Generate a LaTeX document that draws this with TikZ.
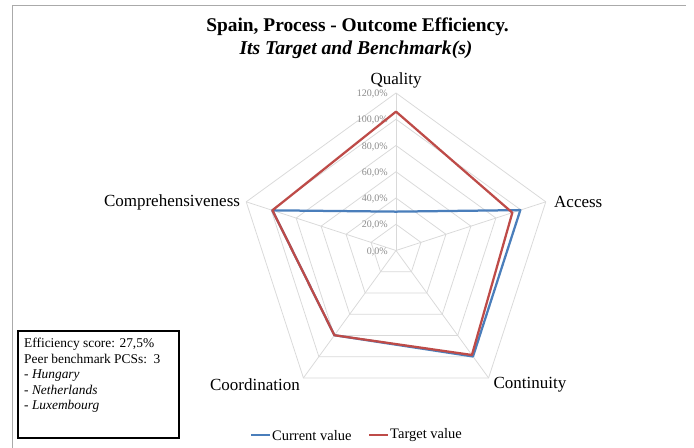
\documentclass[tikz,border=0pt]{standalone}
\usepackage{fontspec}
\setmainfont{Liberation Serif}
\definecolor{cblue}{RGB}{74,126,187}
\definecolor{cred}{RGB}{190,75,72}
\definecolor{gridc}{RGB}{217,217,217}
\definecolor{ticklab}{RGB}{140,140,140}
\definecolor{framec}{RGB}{170,170,170}
\tikzset{
  gridline/.style={draw=gridc, line width=0.75bp},
  series/.style={line width=2.25bp, line join=round},
  catlabel/.style={font=\fontsize{17bp}{20bp}\selectfont, inner sep=0pt},
  ticklabel/.style={font=\fontsize{10bp}{12bp}\selectfont, text=ticklab, anchor=east, inner sep=0pt},
  boxtext/.style={font=\fontsize{13.4bp}{15.5bp}\selectfont, anchor=base west, inner sep=0pt},
  legtext/.style={font=\fontsize{14.5bp}{17bp}\selectfont, anchor=west, inner sep=0pt},
}
\begin{document}
\begin{tikzpicture}[x=1bp,y=1bp]
\useasboundingbox (0,0) rectangle (694,448);
\fill[white] (0,0) rectangle (694,448);
\draw[framec, line width=1bp] (12,0) -- (12,442) -- (686,442);

% title
\node (title) at (357.5,421) {\fontsize{19.4bp}{22bp}\selectfont\bfseries Spain, Process - Outcome Efficiency.};
\node (subtitle) at (356,398.5) {\fontsize{19.6bp}{22bp}\selectfont\bfseries\itshape Its Target and Benchmark(s)};

\begin{scope}[shift={(396,197.5)}]
  \def\s{1.3125}
  \foreach \r in {1,...,6} {
    \pgfmathsetmacro\rr{\r*26.25}
    \draw[gridline] (90:\rr) -- (18:\rr) -- (-54:\rr) -- (-126:\rr) -- (162:\rr) -- cycle;
  }
  \foreach \a in {90,18,-54,-126,162} \draw[gridline] (0,0) -- (\a:157.5);
  \foreach \r/\t in {0/0,1/20,2/40,3/60,4/80,5/100,6/120} {
    \node[ticklabel] (tick\r) at (-8,\r*26.25-1) {\t,0\%};
  }
  \coordinate (centre) at (0,0);
  \draw[cblue, series] (90:{29.6*\s}) -- (18:{99.6*\s}) -- (-54:{99.8*\s}) -- (-126:{79.8*\s}) -- (162:{99*\s}) -- cycle;
  \draw[cred, series] (90:{105.8*\s}) -- (18:{93.2*\s}) -- (-54:{98.4*\s}) -- (-126:{79.8*\s}) -- (162:{99*\s}) -- cycle;
\end{scope}

\node[catlabel] (quality) at (396,368) {Quality};
\node[catlabel, anchor=west] (access) at (554,246) {Access};
\node[catlabel] (continuity) at (530,63) {Continuity};
\node[catlabel] (coordination) at (255,63) {Coordination};
\node[catlabel] (compr) at (172,246) {Comprehensiveness};

% info box
\draw[black, line width=1.5bp] (18,117) rectangle (179,10);
\node[boxtext] (b1) at (24,100) {Efficiency score: 27,5\%};
\node[boxtext] (b2) at (24,84.5) {Peer benchmark PCSs:\ \ 3};
\node[boxtext] (b3) at (24,69) {- \textit{Hungary}};
\node[boxtext] (b4) at (24,53.5) {- \textit{Netherlands}};
\node[boxtext] (b5) at (24,38) {- \textit{Luxembourg}};

% legend
\coordinate (lb1) at (251,13);
\coordinate (lb2) at (270,13);
\draw[cblue, line width=2.25bp] (lb1) -- (lb2);
\node[legtext] (lcur) at (272,12.5) {Current value};
\coordinate (lr1) at (369,13);
\coordinate (lr2) at (388,13);
\draw[cred, line width=2.25bp] (lr1) -- (lr2);
\node[legtext] (ltar) at (390,12.5) {Target value};
\end{tikzpicture}
\end{document}
